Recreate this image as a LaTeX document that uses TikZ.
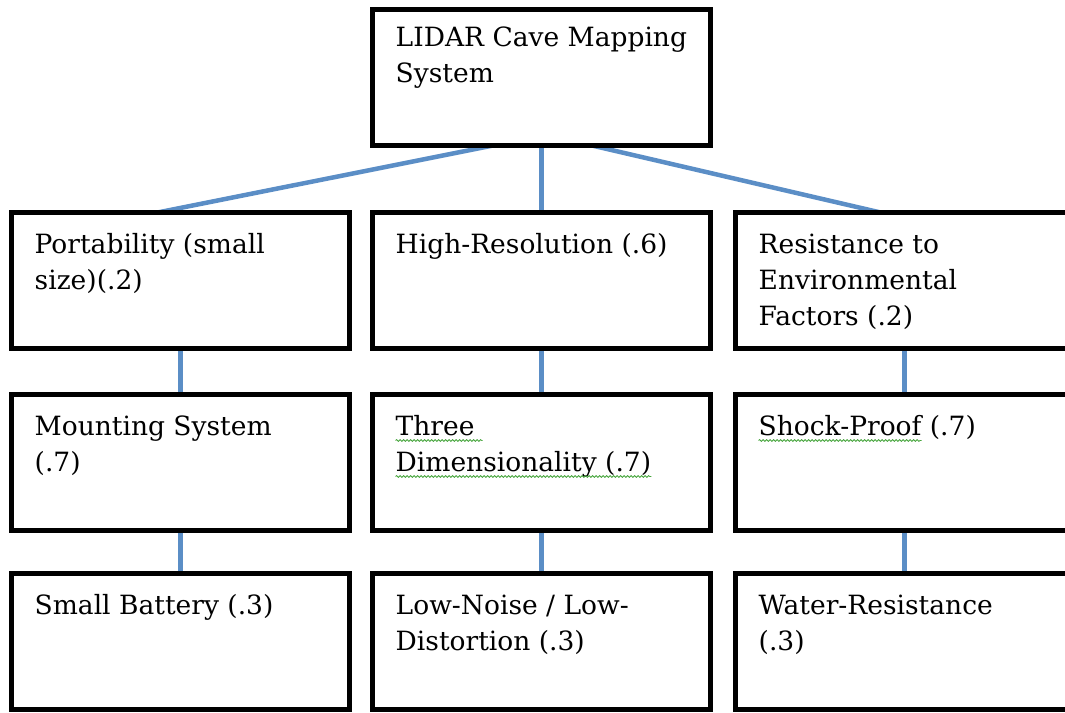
\documentclass[tikz,border=0pt]{standalone}
\usepackage{fontspec}
\setmainfont{DejaVu Serif}
\usetikzlibrary{positioning,backgrounds,decorations.pathmorphing}

\definecolor{linkblue}{RGB}{91,142,198}
\definecolor{spellgreen}{RGB}{70,165,60}

\tikzset{
  box/.style={draw=black, line width=5pt, minimum width=338pt, minimum height=136pt, inner sep=0pt, outer sep=0pt},
  txt/.style={anchor=base west, align=left, inner sep=0pt, font=\fontsize{26.5}{36}\selectfont},
  link/.style={draw=linkblue, line width=4.5pt},
  squig/.style={draw=spellgreen, line width=0.8pt, decorate, decoration={snake, amplitude=0.9pt, segment length=3.5pt}}
}

\begin{document}
\begin{tikzpicture}[x=1pt,y=-1pt]
  \useasboundingbox (0,0) rectangle (1065,712);
  \clip (0,0) rectangle (1065,712);

  % boxes
  \node[box] (sys) at (541.5,77.5) {};
  \node[box, below=67pt of sys] (hres) {};
  \node[box, left=23pt of hres] (port) {};
  \node[box, right=25pt of hres] (env) {};
  \node[box, below=46pt of port] (mnt) {};
  \node[box, below=46pt of hres] (dimb) {};
  \node[box, below=46pt of env] (shock) {};
  \node[box, below=43pt of mnt] (bat) {};
  \node[box, below=43pt of dimb] (noise) {};
  \node[box, below=43pt of shock] (water) {};

  % texts (base west = baseline of the last line)
  \node[txt] (sysT) at ([shift={(23,73)}]sys.north west) {LIDAR Cave Mapping\\System};
  \node[txt] (portT) at ([shift={(23,77)}]port.north west) {Portability (small\\size)(.2)};
  \node[txt] (hresT) at ([shift={(23,41)}]hres.north west) {High-Resolution (.6)};
  \node[txt] (envT) at ([shift={(23,113)}]env.north west) {Resistance to\\Environmental\\Factors (.2)};
  \node[txt] (mntT) at ([shift={(23,77)}]mnt.north west) {Mounting System\\(.7)};
  \node[txt] (thr) at ([shift={(23,41)}]dimb.north west) {Three};
  \node[txt] (dim) at ([yshift=-36pt]thr.base west) {Dimensionality (.7)};
  \node[txt] (shk) at ([shift={(23,41)}]shock.north west) {Shock-Proof};
  \node[txt] (shkV) at ([xshift=8pt]shk.base east) {(.7)};
  \node[txt] (batT) at ([shift={(23,41)}]bat.north west) {Small Battery (.3)};
  \node[txt] (noiseT) at ([shift={(23,77)}]noise.north west) {Low-Noise / Low-\\Distortion (.3)};
  \node[txt] (waterT) at ([shift={(23,77)}]water.north west) {Water-Resistance\\(.3)};

  % spelling marks
  \draw[squig] ([yshift=-5pt]thr.base west) -- ([shift={(8pt,-5pt)}]thr.base east);
  \draw[squig] ([yshift=-5pt]dim.base west) -- ([yshift=-5pt]dim.base east);
  \draw[squig] ([yshift=-5pt]shk.base west) -- ([yshift=-5pt]shk.base east);

  % connectors
  \begin{scope}[on background layer]
    \draw[link] ([xshift=-48.5pt]sys.south) -- ([xshift=-23pt]port.north);
    \draw[link] (sys) -- (hres);
    \draw[link] ([xshift=50.5pt]sys.south) -- ([xshift=-24pt]env.north);
    \draw[link] (port) -- (mnt);
    \draw[link] (hres) -- (dimb);
    \draw[link] (env) -- (shock);
    \draw[link] (mnt) -- (bat);
    \draw[link] (dimb) -- (noise);
    \draw[link] (shock) -- (water);
  \end{scope}
\end{tikzpicture}
\end{document}
